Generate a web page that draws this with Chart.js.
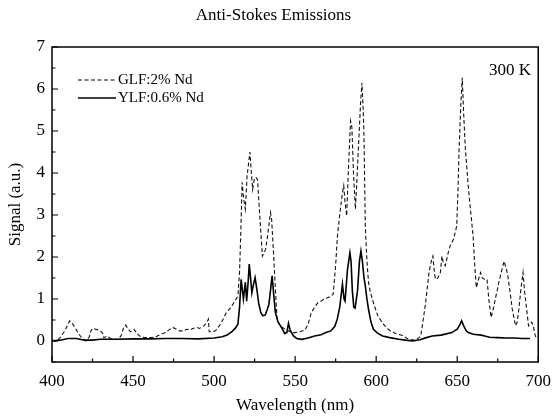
<!DOCTYPE html>
<html>
<head>
<meta charset="utf-8">
<script src="https://cdn.jsdelivr.net/npm/chart.js@4.4.1/dist/chart.umd.min.js"></script>
<style>
  html, body { margin: 0; padding: 0; background: #fff; }
  canvas { display: block; }
</style>
</head>
<body>
<canvas id="spectrum" width="560" height="417"></canvas>
<script>
// GLF:2% Nd (dashed)
var glfWavelength = [400, 402.8, 405, 407.9, 410.9, 412, 414, 416, 418, 421, 423, 424, 425, 427, 429, 431, 432, 434, 436, 438,
    441, 443, 444, 445.5, 447, 448.5, 450.6, 452, 454, 457, 461, 464, 467, 470, 472, 474.4, 476, 477.4, 479, 481.4,
    483, 485.5, 487, 489.5, 491, 493.6, 495.5, 496.5, 497, 499, 501, 504, 507.6, 510, 512, 514.7, 515.7, 516.5, 517.3, 518.2,
    519.3, 520.3, 521.2, 522.1, 523, 523.8, 524.8, 525.8, 526.8, 528, 529.8, 531, 531.8, 533, 534.8, 535.5, 536.8, 538, 538.9, 541,
    543.9, 546, 548, 549.9, 553, 556, 558, 560, 562, 564, 566, 568, 570, 572, 573.5, 575, 576.1, 577.5, 579.2, 580,
    580.8, 581.8, 583, 584.2, 585, 586, 587.2, 588.2, 589.2, 590.3, 591.2, 592, 592.5, 593.3, 594.3, 595.3, 596.5, 598.3, 601, 604.4,
    608, 612, 616.4, 620, 624, 626.5, 627.5, 629, 630.5, 632.6, 634, 635, 636, 636.6, 638, 639.6, 640.6, 641.5, 642.6, 644.7,
    646, 647.7, 649.7, 650.5, 651.1, 652.2, 653.1, 654, 655, 656.8, 658, 659.8, 660.8, 661.8, 663, 664.4, 665.5, 666.8, 668.4, 669.5,
    670.9, 672.5, 673.9, 676, 678.9, 680.9, 682.5, 684, 686, 687, 688, 689.5, 690.6, 691.5, 692.6, 694, 696, 697, 698, 699];
var glfSignal = [0.02, 0.0, 0.08, 0.24, 0.48, 0.45, 0.33, 0.2, 0.09, 0.0, 0.1, 0.24, 0.3, 0.28, 0.26, 0.2, 0.08, 0.12, 0.06, 0.04,
    0.04, 0.15, 0.3, 0.38, 0.28, 0.22, 0.28, 0.2, 0.12, 0.08, 0.08, 0.1, 0.16, 0.2, 0.26, 0.32, 0.3, 0.26, 0.24, 0.24,
    0.28, 0.27, 0.3, 0.32, 0.3, 0.36, 0.44, 0.52, 0.22, 0.22, 0.25, 0.4, 0.68, 0.78, 0.9, 1.07, 1.63, 2.6, 3.78, 3.4,
    3.14, 3.9, 4.2, 4.5, 4.0, 3.61, 3.85, 3.9, 3.85, 3.1, 2.02, 2.12, 2.18, 2.5, 3.06, 2.9, 2.0, 1.1, 0.52, 0.35,
    0.28, 0.24, 0.2, 0.2, 0.22, 0.26, 0.4, 0.68, 0.8, 0.91, 0.95, 1.0, 1.03, 1.06, 1.12, 1.8, 2.5, 3.0, 3.53, 3.7,
    3.3, 2.98, 4.2, 5.24, 5.1, 4.0, 3.14, 3.9, 4.72, 5.6, 6.15, 5.5, 4.88, 2.74, 1.9, 1.39, 1.15, 0.91, 0.6, 0.4,
    0.26, 0.18, 0.13, 0.04, 0.02, 0.08, 0.12, 0.5, 0.91, 1.63, 1.9, 2.02, 1.6, 1.47, 1.5, 1.63, 2.02, 1.85, 1.79, 2.14,
    2.3, 2.42, 2.74, 3.6, 4.49, 5.6, 6.27, 5.4, 4.6, 3.69, 3.2, 2.5, 1.8, 1.27, 1.45, 1.63, 1.5, 1.47, 1.47, 1.0,
    0.56, 0.8, 1.07, 1.45, 1.9, 1.63, 1.2, 0.75, 0.36, 0.45, 0.75, 1.3, 1.63, 1.2, 0.83, 0.36, 0.45, 0.35, 0.15, 0.04];

// YLF:0.6% Nd (solid)
var ylfWavelength = [400, 405, 410, 415, 420, 425, 430, 440, 450, 460, 470, 480, 490, 500, 505, 508, 511, 513, 514.7, 515.7,
    516.7, 517.5, 518.1, 519.3, 520.1, 521, 521.7, 522.5, 523.3, 524.3, 525.3, 526.5, 527.5, 528.8, 530, 531.6, 532.8, 533.8, 534.8, 535.8,
    536.8, 537.8, 539.5, 541.9, 543.5, 544.9, 545.9, 547, 549, 551, 554, 558, 562, 566, 569, 572, 574.5, 576, 577.5, 579.2,
    580.2, 580.8, 582.3, 583.8, 584.5, 585.3, 586.2, 587, 588.5, 589.7, 590.6, 591.5, 592.5, 593.3, 594.3, 595.3, 596.8, 598.3, 601, 604,
    608.4, 614, 618, 622.5, 627, 631, 634.6, 640, 646.7, 650, 651.5, 652.7, 654, 655.5, 656.8, 660, 664.8, 667, 670, 675,
    680, 685, 690, 695];
var ylfSignal = [0.0, 0.02, 0.06, 0.06, 0.02, 0.02, 0.04, 0.04, 0.05, 0.05, 0.06, 0.06, 0.05, 0.07, 0.1, 0.14, 0.22, 0.3, 0.4, 0.8,
    1.47, 1.2, 1.0, 1.4, 0.95, 1.4, 1.83, 1.5, 1.15, 1.35, 1.51, 1.2, 0.9, 0.68, 0.6, 0.62, 0.75, 0.87, 1.2, 1.55,
    1.1, 0.68, 0.45, 0.3, 0.18, 0.2, 0.42, 0.25, 0.12, 0.06, 0.04, 0.07, 0.12, 0.15, 0.2, 0.24, 0.35, 0.52, 0.8, 1.35,
    1.0, 0.95, 1.7, 2.1, 1.9, 1.2, 0.8, 0.78, 1.2, 1.9, 2.14, 1.9, 1.5, 1.31, 1.0, 0.75, 0.45, 0.28, 0.18, 0.12,
    0.08, 0.04, 0.02, 0.0, 0.03, 0.08, 0.12, 0.14, 0.2, 0.28, 0.38, 0.48, 0.36, 0.25, 0.2, 0.16, 0.14, 0.12, 0.09, 0.08,
    0.07, 0.07, 0.06, 0.06];

var xMajor = [400, 450, 500, 550, 600, 650, 700];
var xMinor = [425, 475, 525, 575, 625, 675];
var yMajor = [0, 1, 2, 3, 4, 5, 6, 7];
var yMinor = [-0.5, 0.5, 1.5, 2.5, 3.5, 4.5, 5.5, 6.5];

var serif = "'Liberation Serif', 'Times New Roman', serif";

function points(xs, ys) {
    return xs.map(function(x, i) { return { x: x, y: ys[i] }; });
}

// frame, inward ticks, legend and temperature label
var framePlugin = {
    id: 'frame',
    afterDraw: function(chart) {
        var ctx = chart.ctx;
        var a = chart.chartArea;
        var xs = chart.scales.x, ys = chart.scales.y;
        ctx.save();
        ctx.strokeStyle = '#000';
        ctx.lineWidth = 1.5;
        ctx.strokeRect(a.left, a.top, a.right - a.left, a.bottom - a.top);

        ctx.lineWidth = 1.2;
        ctx.beginPath();
        xMajor.forEach(function(v) {
            var px = xs.getPixelForValue(v);
            ctx.moveTo(px, a.bottom); ctx.lineTo(px, a.bottom - 6);
        });
        xMinor.forEach(function(v) {
            var px = xs.getPixelForValue(v);
            ctx.moveTo(px, a.bottom); ctx.lineTo(px, a.bottom - 3.5);
        });
        yMajor.forEach(function(v) {
            var py = ys.getPixelForValue(v);
            ctx.moveTo(a.left, py); ctx.lineTo(a.left + 6, py);
        });
        yMinor.forEach(function(v) {
            var py = ys.getPixelForValue(v);
            ctx.moveTo(a.left, py); ctx.lineTo(a.left + 3.5, py);
        });
        ctx.stroke();

        // legend
        var items = chart.data.datasets;
        ctx.font = '15px ' + serif;
        ctx.fillStyle = '#000';
        ctx.textBaseline = 'middle';
        ctx.textAlign = 'left';
        items.forEach(function(ds, i) {
            var ly = a.top + 33 + i * 18;
            ctx.beginPath();
            ctx.setLineDash(ds.borderDash || []);
            ctx.lineWidth = ds.borderWidth;
            ctx.moveTo(a.left + 26, ly);
            ctx.lineTo(a.left + 64, ly);
            ctx.stroke();
            ctx.setLineDash([]);
            ctx.fillText(ds.label, a.left + 66, ly);
        });

        ctx.font = '17px ' + serif;
        ctx.fillText('300 K', a.left + 437, a.top + 24);
        ctx.restore();
    }
};

new Chart(document.getElementById('spectrum').getContext('2d'), {
    type: 'line',
    data: {
        datasets: [{
            label: 'GLF:2% Nd',
            data: points(glfWavelength, glfSignal),
            borderColor: '#111',
            borderWidth: 1.1,
            borderDash: [4, 2.5],
            pointRadius: 0,
            tension: 0,
            fill: false
        }, {
            label: 'YLF:0.6% Nd',
            data: points(ylfWavelength, ylfSignal),
            borderColor: '#000',
            borderWidth: 1.6,
            pointRadius: 0,
            tension: 0,
            fill: false
        }]
    },
    options: {
        responsive: false,
        animation: false,
        layout: { padding: { left: 0, right: 13, top: 0, bottom: 0 } },
        plugins: {
            legend: { display: false },
            tooltip: { enabled: false },
            title: {
                display: true,
                text: 'Anti-Stokes Emissions',
                color: '#000',
                font: { family: serif, size: 17, weight: 'normal' },
                padding: { top: 5, bottom: 21.6 }
            }
        },
        scales: {
            x: {
                type: 'linear',
                min: 400,
                max: 700,
                afterBuildTicks: function(scale) {
                    scale.ticks = xMajor.map(function(v) { return { value: v }; });
                },
                afterFit: function(scale) { scale.height = 55; },
                grid: { display: false, drawTicks: false },
                border: { display: false },
                ticks: {
                    color: '#000',
                    padding: 9,
                    maxRotation: 0,
                    font: { family: serif, size: 17 }
                },
                title: {
                    display: true,
                    text: 'Wavelength (nm)',
                    color: '#000',
                    font: { family: serif, size: 17 },
                    padding: { top: 0, bottom: 1 }
                }
            },
            y: {
                min: -0.5,
                max: 7,
                afterBuildTicks: function(scale) {
                    scale.ticks = yMajor.map(function(v) { return { value: v }; });
                },
                afterFit: function(scale) { scale.width = 52; },
                grid: { display: false, drawTicks: false },
                border: { display: false },
                ticks: {
                    color: '#000',
                    padding: 7,
                    font: { family: serif, size: 17 }
                },
                title: {
                    display: true,
                    text: 'Signal (a.u.)',
                    color: '#000',
                    font: { family: serif, size: 17 },
                    padding: { top: 5, bottom: 0 }
                }
            }
        }
    },
    plugins: [framePlugin]
});
</script>
</body>
</html>
